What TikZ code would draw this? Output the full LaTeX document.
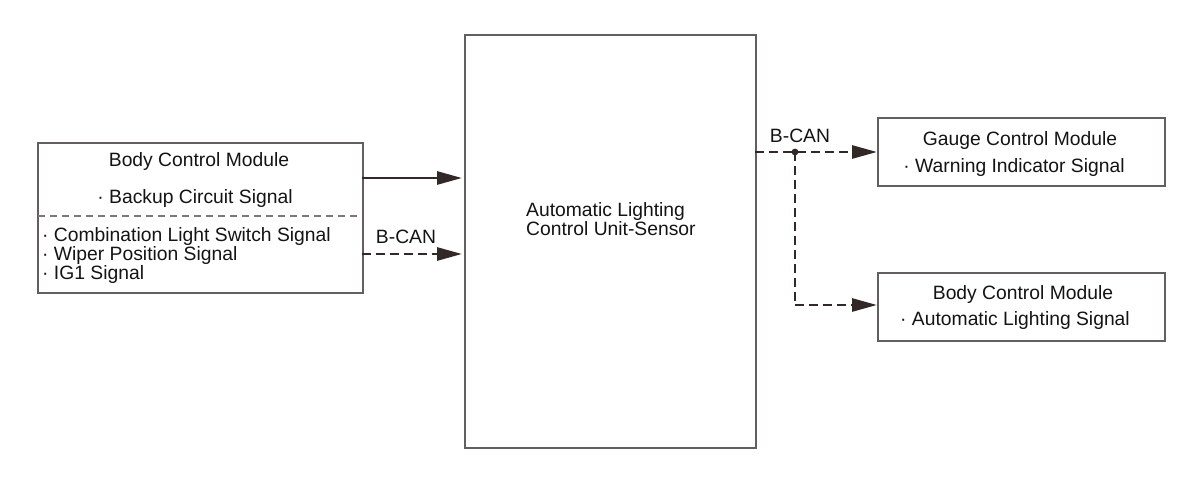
\documentclass[tikz,border=0pt]{standalone}
\usepackage{fontspec}
\setmainfont{Liberation Sans}
\usetikzlibrary{arrows.meta}
\definecolor{linecol}{RGB}{50,40,40}
\definecolor{boxcol}{RGB}{100,95,95}
\definecolor{txtcol}{RGB}{20,20,20}
\definecolor{divcol}{RGB}{125,120,120}
\begin{document}
\begin{tikzpicture}[x=1pt,y=-1pt,
  box/.style={draw=boxcol,line width=1.8pt,fill=white,rectangle,inner sep=0pt,anchor=north west},
  txt/.style={text=txtcol,inner sep=0pt,font=\fontsize{19.3}{19.3}\selectfont},
  conn/.style={draw=linecol,line width=2.8pt,-{Triangle[length=25pt,width=13pt]}},
  dashconn/.style={conn,dash pattern=on 9pt off 5pt},
  dashline/.style={draw=linecol,line width=2.8pt,dash pattern=on 9pt off 5pt}]
\useasboundingbox (0,0) rectangle (1200,484);
% boxes
\node[box,minimum width=325pt,minimum height=150pt] (bcm) at (37,142) {};
\node[box,minimum width=291pt,minimum height=413pt] (alcu) at (464,34) {};
\node[box,minimum width=287pt,minimum height=68pt] (gcm) at (877,117) {};
\node[box,minimum width=287pt,minimum height=68pt] (bcm2) at (877,272) {};
% divider
\coordinate (dL) at (38,216);
\coordinate (dR) at (361,216);
\draw[draw=divcol,line width=1.4pt,dash pattern=on 7pt off 5pt] (dL) -- (dR);
% texts left box
\node[txt,anchor=base] (t1) at (199,167) {Body Control Module};
\node[txt,anchor=base] (t2) at (195,204) {· Backup Circuit Signal};
\node[txt,anchor=base west] (t3) at (42,241) {· Combination Light Switch Signal};
\node[txt,anchor=base west] (t4) at (42,260) {· Wiper Position Signal};
\node[txt,anchor=base west] (t5) at (42,279) {· IG1 Signal};
% center text
\node[txt,anchor=base west] (c1) at (526,216) {Automatic Lighting};
\node[txt,anchor=base west] (c2) at (526,235) {Control Unit-Sensor};
% right texts
\node[txt,anchor=base] (g1) at (1020,146) {Gauge Control Module};
\node[txt,anchor=base] (g2) at (1014,172) {· Warning Indicator Signal};
\node[txt,anchor=base] (b1) at (1023,299) {Body Control Module};
\node[txt,anchor=base] (b2) at (1015,325) {· Automatic Lighting Signal};
% labels
\node[txt,anchor=base] (lc1) at (406,243) {B-CAN};
\node[txt,anchor=base] (lc2) at (800,143) {B-CAN};
% connectors
\coordinate (s1) at (362,178);
\coordinate (s2) at (362,254);
\coordinate (e1) at (462,178);
\coordinate (e2) at (462,254);
\draw[conn] (s1) -- (e1);
\draw[dashconn] (s2) -- (e2);
\coordinate (r1) at (755,152);
\coordinate (j) at (795,152);
\coordinate (k) at (795,305);
\draw[dashconn] (r1) -- (gcm.west |- r1);
\draw[dashline] (j) -- (k);
\draw[dashconn] (k) -- (bcm2.west |- k);
\fill[linecol] (j) circle (3.4pt);
\end{tikzpicture}
\end{document}
